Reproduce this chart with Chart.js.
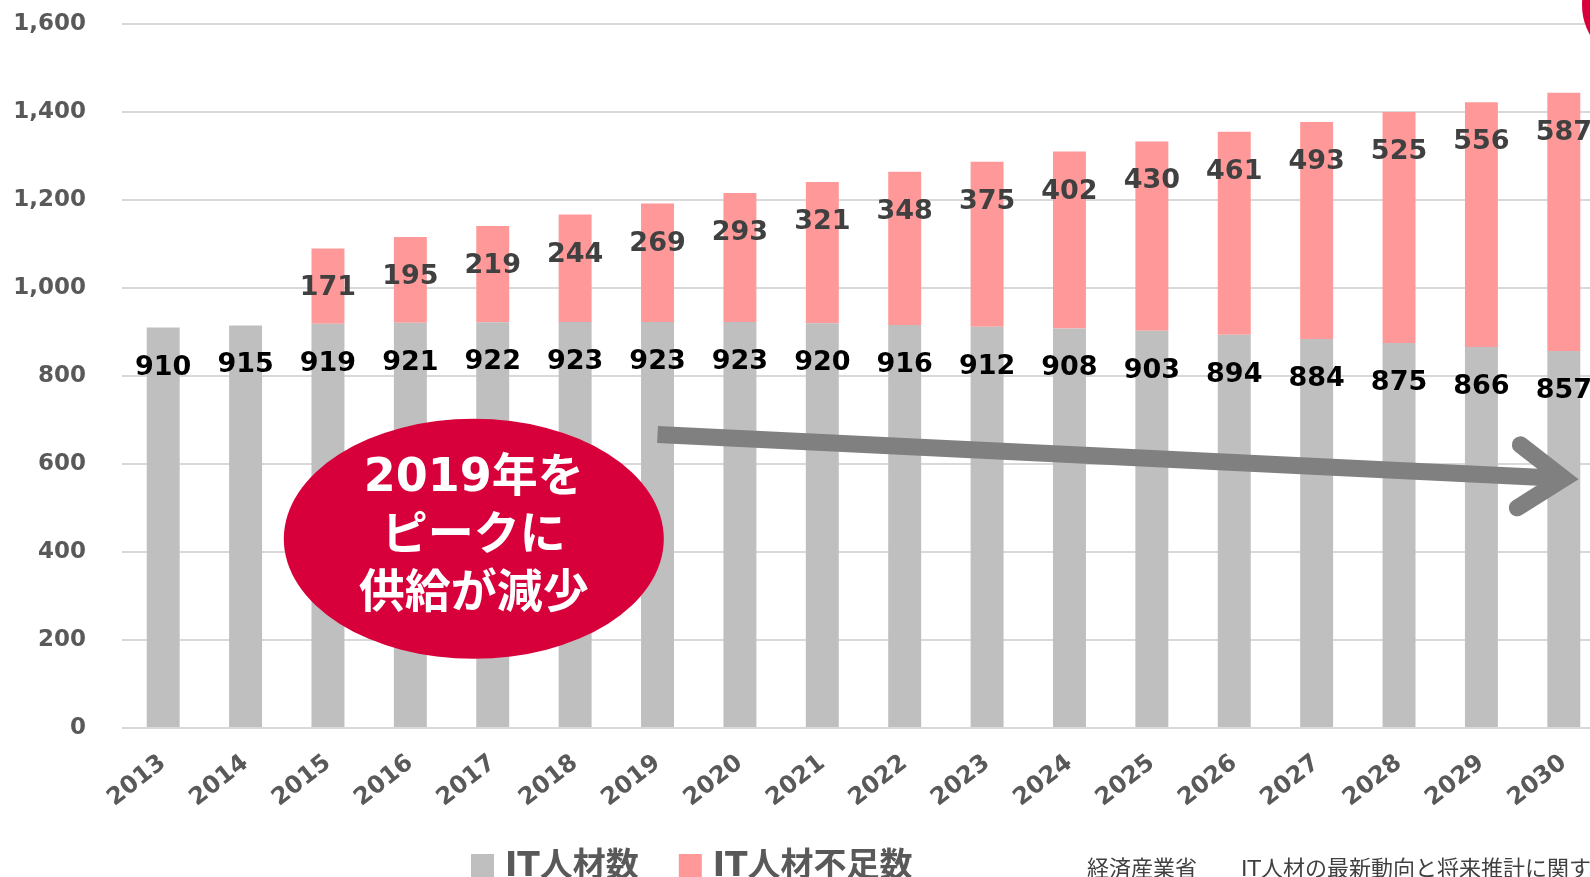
<!DOCTYPE html>
<html>
<head>
<meta charset="utf-8">
<script src="https://cdn.jsdelivr.net/npm/chart.js@4/dist/chart.umd.min.js"></script>
<style>
  html, body { margin: 0; padding: 0; background: #fff; overflow: hidden; }
  #wrap { position: relative; width: 1640px; height: 877px; }
</style>
</head>
<body>
<div id="wrap"><canvas id="itChart"></canvas></div>
<script>
// data
const years = ["2013", "2014", "2015", "2016", "2017", "2018", "2019", "2020", "2021",
    "2022", "2023", "2024", "2025", "2026", "2027", "2028", "2029", "2030"];
const itWorkers = [910, 915, 919, 921, 922, 923, 923, 923, 920, 916, 912, 908, 903, 894, 884, 875, 866, 857];
const itShortage = [null, null, 171, 195, 219, 244, 269, 293, 321, 348, 375, 402, 430, 461, 493, 525, 556, 587];
const seriesNames = ["IT人材数", "IT人材不足数"];
const yMax = 1600;
const yStep = 200;
const calloutLines = ["2019年を", "ピークに", "供給が減少"];
const sourceText = "経済産業省　　IT人材の最新動向と将来推計に関する調査結果";

const FONT = "'DejaVu Sans', 'Noto Sans CJK JP', sans-serif";
Chart.defaults.font.family = FONT;

// value labels inside bars, near the top of each segment
const barLabels = {
    id: "barLabels",
    afterDatasetsDraw(chart) {
        const ctx = chart.ctx;
        const colors = ["#000000", "#404040"];
        ctx.save();
        ctx.font = "bold 27px " + FONT;
        ctx.textAlign = "center";
        ctx.textBaseline = "middle";
        chart.data.datasets.forEach((ds, i) => {
            const meta = chart.getDatasetMeta(i);
            ctx.fillStyle = colors[i];
            meta.data.forEach((bar, j) => {
                if (ds.data[j] == null) return;
                ctx.fillText(ds.data[j], bar.x, bar.y + 40);
            });
        });
        ctx.restore();
    }
};

// callout ellipse, arrow, legend, source
const extras = {
    id: "extras",
    afterDraw(chart) {
        const ctx = chart.ctx;
        const x = chart.scales.x, y = chart.scales.y;
        ctx.save();

        // red ellipse
        const cx = x.getPixelForValue(3.77), cy = y.getPixelForValue(430);
        ctx.fillStyle = "#D7003A";
        ctx.beginPath();
        ctx.ellipse(cx, cy, 190, 120, 0, 0, Math.PI * 2);
        ctx.fill();
        ctx.fillStyle = "#ffffff";
        ctx.font = "bold 46px " + FONT;
        ctx.textAlign = "center";
        ctx.textBaseline = "middle";
        calloutLines.forEach((t, i) => ctx.fillText(t, cx, cy - 60 + i * 58));

        // arrow
        const x0 = x.getPixelForValue(6), y0 = y.getPixelForValue(667);
        const x1 = x.getPixelForValue(17), y1 = y.getPixelForValue(567);
        const th = Math.atan2(y1 - y0, x1 - x0);
        const a = 35 * Math.PI / 180, L = 55;
        ctx.strokeStyle = "#808080";
        ctx.lineWidth = 17;
        ctx.lineCap = "butt";
        ctx.beginPath();
        ctx.moveTo(x0, y0);
        ctx.lineTo(x1 - 10, y1 - 10 * Math.sin(th));
        ctx.stroke();
        ctx.lineCap = "round";
        ctx.lineJoin = "miter";
        ctx.beginPath();
        ctx.moveTo(x1 - L * Math.cos(th + a), y1 - L * Math.sin(th + a));
        ctx.lineTo(x1, y1);
        ctx.lineTo(x1 - L * Math.cos(th - a), y1 - L * Math.sin(th - a));
        ctx.stroke();

        // partial circle at top right
        ctx.fillStyle = "#D7003A";
        ctx.beginPath();
        ctx.arc(1642, 5, 60, 0, Math.PI * 2);
        ctx.fill();

        // legend
        ctx.textAlign = "left";
        ctx.textBaseline = "alphabetic";
        ctx.font = "bold 33px " + FONT;
        let lx = 471;
        chart.data.datasets.forEach(ds => {
            ctx.fillStyle = ds.backgroundColor;
            ctx.fillRect(lx, 854, 23, 23);
            ctx.fillStyle = "#595959";
            ctx.fillText(ds.label, lx + 34, 876);
            lx += 34 + ctx.measureText(ds.label).width + 40;
        });

        // source
        ctx.font = "22px " + FONT;
        ctx.fillStyle = "#404040";
        ctx.fillText(sourceText, 1087, 876);
        ctx.restore();
    }
};

new Chart(document.getElementById("itChart"), {
    type: "bar",
    data: {
        labels: years,
        datasets: [
            { label: seriesNames[0], data: itWorkers, backgroundColor: "#BFBFBF" },
            { label: seriesNames[1], data: itShortage, backgroundColor: "#FF9999" }
        ]
    },
    options: {
        responsive: true,
        maintainAspectRatio: false,
        animation: false,
        layout: { padding: { top: 24, right: 35, left: 0, bottom: 0 } },
        datasets: { bar: { categoryPercentage: 0.8, barPercentage: 0.5 } },
        plugins: { legend: { display: false }, tooltip: { enabled: false } },
        scales: {
            x: {
                stacked: true,
                grid: { display: false },
                border: { display: false },
                ticks: {
                    autoSkip: false, minRotation: 38, maxRotation: 38, padding: 13,
                    color: "#595959", font: { size: 24, weight: "bold" }
                },
                afterFit(scale) { scale.height = 149; }
            },
            y: {
                stacked: true,
                min: 0, max: yMax,
                grid: { color: "#D9D9D9", lineWidth: 2, drawTicks: false },
                border: { display: false },
                ticks: {
                    stepSize: yStep, padding: 36,
                    color: "#595959", font: { size: 23, weight: "bold" },
                    callback: v => v.toLocaleString("en-US")
                },
                afterFit(scale) {
                    scale.width = 122;
                    // tick padding would otherwise push the plot top down
                    scale.paddingTop = 0;
                    scale.paddingBottom = 0;
                }
            }
        }
    },
    plugins: [barLabels, extras]
});
</script>
</body>
</html>
